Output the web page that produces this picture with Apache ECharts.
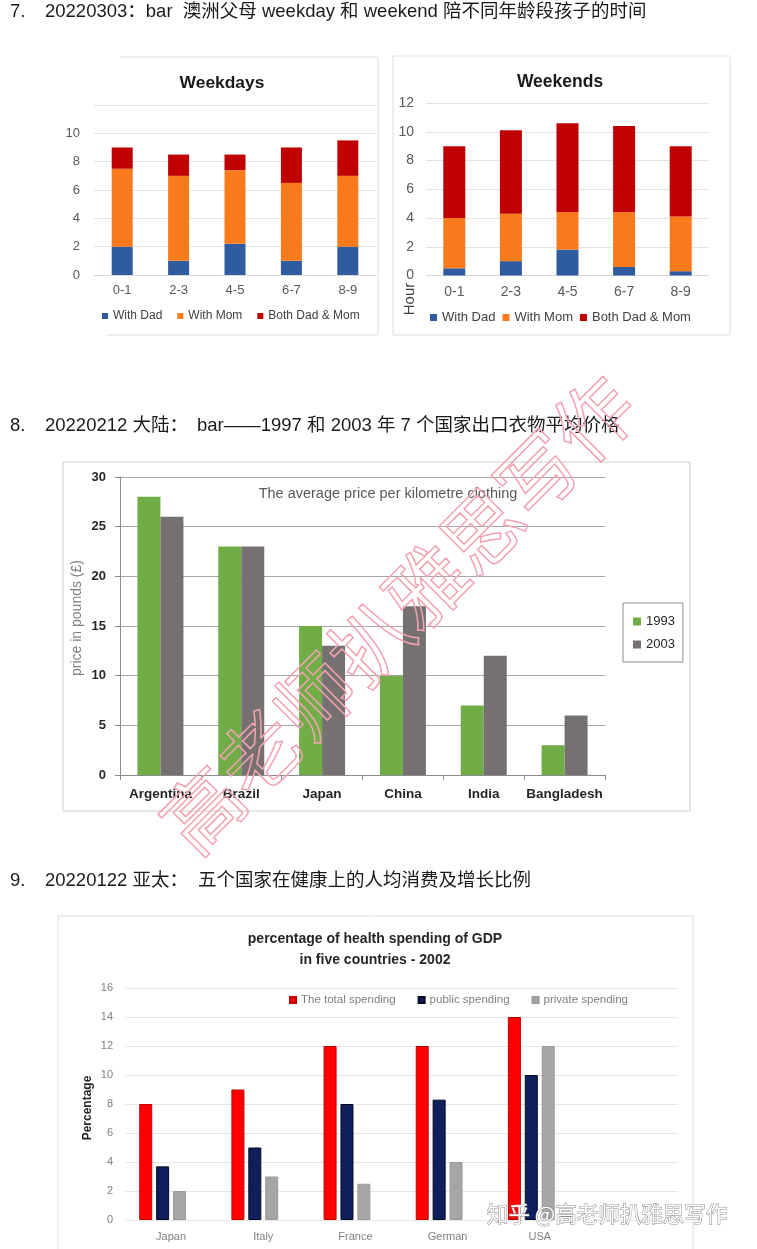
<!DOCTYPE html>
<html><head><meta charset="utf-8">
<script src="https://cdn.jsdelivr.net/npm/echarts@6/dist/echarts.min.js"></script>
<style>html,body{margin:0;padding:0;background:#fff}#c{width:757px;height:1249px}</style>
</head><body><div id="c"></div><script>
// ---- Chart 7: hours with children ----
const ageGroups = ['0-1', '2-3', '4-5', '6-7', '8-9'];
const weekdayDad = [2, 1, 2.2, 1, 2];
const weekdayMom = [5.5, 6, 5.2, 5.5, 5];
const weekdayBoth = [1.5, 1.5, 1.1, 2.5, 2.5];
const weekendDad = [0.5, 1, 1.8, 0.6, 0.3];
const weekendMom = [3.5, 3.3, 2.6, 3.8, 3.8];
const weekendBoth = [5, 5.8, 6.2, 6, 4.9];
const parentNames = ['With Dad', 'With Mom', 'Both Dad & Mom'];
// ---- Chart 8: clothing prices ----
const clothCountries = ['Argentina', 'Brazil', 'Japan', 'China', 'India', 'Bangladesh'];
const price1993 = [28, 23, 15, 10, 7, 3];
const price2003 = [26, 23, 13, 17, 12, 6];
const yearNames = ['1993', '2003'];
// ---- Chart 9: health spending ----
const healthCountries = ['Japan', 'Italy', 'France', 'German', 'USA', ''];
const totalSpending = [8, 9, 12, 12, 14];
const publicSpending = [3.7, 5, 8, 8.3, 10];
const privateSpending = [2, 3, 2.5, 4, 12];
const spendNames = ['The total spending', 'public spending', 'private spending'];

const LAT = '"Liberation Sans", Arial, sans-serif';
const CJK = '"Liberation Sans", "Noto Sans CJK SC", sans-serif';
const cDad = '#2f5b9f', cMom = '#fb7a1c', cBoth = '#c00000';

const chart = echarts.init(document.getElementById('c'), null, {renderer: 'canvas'});

function txt(x, y, s, o) {
  return Object.assign({type: 'text', x: x, y: y, silent: true,
    style: Object.assign({text: s, fill: '#1a1a1a', font: '18.5px ' + CJK, align: 'left', verticalAlign: 'middle'}, o || {})});
}
function line(pts, color) {
  return {type: 'polyline', silent: true, z: -1, shape: {points: pts}, style: {fill: 'none', stroke: color || '#dcdcdc', lineWidth: 1}};
}

const graphic = [
  // headings
  txt(10, 12, '7.'), txt(45, 12, '20220303：bar  澳洲父母 weekday 和 weekend 陪不同年龄段孩子的时间'),
  txt(10, 426, '8.'), txt(45, 426, '20220212 大陆：'), txt(197, 426, 'bar——1997 和 2003 年 7 个国家出口衣物平均价格'),
  txt(10, 881, '9.'), txt(45, 881, '20220122 亚太：'), txt(198, 881, '五个国家在健康上的人均消费及增长比例'),
  // frames
  line([[120, 57], [378, 57], [378, 335], [107, 335]]),
  line([[393, 56], [730, 56], [730, 335], [393, 335], [393, 56]]),
  {type: 'rect', silent: true, z: -1, shape: {x: 63, y: 462, width: 627, height: 349}, style: {fill: 'none', stroke: '#cfcfcf'}},
  {type: 'rect', silent: true, z: -1, shape: {x: 58, y: 916, width: 635, height: 360}, style: {fill: 'none', stroke: '#dedede'}},
  // titles
  txt(222, 83, 'Weekdays', {font: 'bold 17.4px ' + LAT, align: 'center'}),
  txt(560, 82, 'Weekends', {font: 'bold 17.5px ' + LAT, align: 'center'}),
  txt(388, 494, 'The average price per kilometre clothing', {font: '14.5px ' + LAT, fill: '#595959', align: 'center'}),
  txt(375, 950, 'percentage of health spending of GDP\nin five countries - 2002', {font: 'bold 14px ' + LAT, fill: '#262626', align: 'center', lineHeight: 21}),
  // axis names
  Object.assign(txt(410, 299, 'Hour', {font: '15px ' + LAT, fill: '#404040', align: 'center'}), {rotation: Math.PI / 2}),
  Object.assign(txt(77, 618, 'price in pounds (£)', {font: '14px ' + LAT, fill: '#7f7f7f', align: 'center'}), {rotation: Math.PI / 2}),
  Object.assign(txt(88, 1108, 'Percentage', {font: 'bold 12px ' + LAT, fill: '#262626', align: 'center'}), {rotation: Math.PI / 2}),
  // watermarks
  {type: 'text', x: 398, y: 614, rotation: Math.PI / 4, z: 100, silent: true,
    style: {text: '高老师扒雅思写作', font: '79px "Noto Sans CJK SC"', fill: 'rgba(0,0,0,0)', stroke: '#f3a2b3', lineWidth: 1.5, align: 'center', verticalAlign: 'middle'}},
  {type: 'text', x: 487, y: 1214, z: 100, silent: true,
    style: {text: '知乎 @高老师扒雅思写作', font: '21.5px "Noto Sans CJK SC"', fill: '#ffffff', stroke: '#8a8a8a', lineWidth: 1, align: 'left', verticalAlign: 'middle'}}
];

function stackSeries(idx, stack, vals, width) {
  const colors = [cDad, cMom, cBoth];
  return vals.map((v, i) => ({
    type: 'bar', name: parentNames[i], stack: stack, data: v, barWidth: width,
    xAxisIndex: idx, yAxisIndex: idx, itemStyle: {color: colors[i]}, silent: true
  }));
}

const option = {
  animation: false,
  backgroundColor: '#fff',
  textStyle: {fontFamily: LAT},
  graphic: graphic,
  grid: [
    {left: 94, right: 381, top: 105, bottom: 974},
    {left: 426, right: 48, top: 103, bottom: 973.5},
    {left: 120, right: 152, top: 477, bottom: 474},
    {left: 125, right: 79, top: 988, bottom: 29}
  ],
  legend: [
    {data: parentNames, left: 102, top: 310, itemWidth: 6, itemHeight: 6, itemGap: 15, icon: 'rect', padding: 0,
      textStyle: {fontSize: 12, color: '#404040', fontFamily: LAT}},
    {data: parentNames, left: 430, top: 311, itemWidth: 7, itemHeight: 7, itemGap: 7, icon: 'rect', padding: 0,
      textStyle: {fontSize: 13, color: '#404040', fontFamily: LAT}},
    {data: yearNames, orient: 'vertical', left: 623, top: 603, itemWidth: 8, itemHeight: 8, itemGap: 10, icon: 'rect',
      padding: [12, 8, 11, 10], borderColor: '#8c8c8c', borderWidth: 1,
      textStyle: {fontSize: 13, color: '#262626', fontFamily: LAT}},
    {data: spendNames, left: 289, top: 994, itemWidth: 6, itemHeight: 6, itemGap: 22, icon: 'rect', padding: 0,
      textStyle: {fontSize: 11.5, color: '#7f7f7f', fontFamily: LAT}}
  ],
  xAxis: [
    {gridIndex: 0, type: 'category', data: ageGroups, axisLine: {lineStyle: {color: '#d9d9d9'}}, axisTick: {show: false},
      axisLabel: {color: '#595959', fontSize: 13, margin: 9}},
    {gridIndex: 1, type: 'category', data: ageGroups, axisLine: {lineStyle: {color: '#d9d9d9'}}, axisTick: {show: false},
      axisLabel: {color: '#595959', fontSize: 14, margin: 10}},
    {gridIndex: 2, type: 'category', data: clothCountries, axisLine: {lineStyle: {color: '#8c8c8c'}},
      axisTick: {show: true, length: 5, lineStyle: {color: '#8c8c8c'}},
      axisLabel: {color: '#262626', fontSize: 13.5, fontWeight: 'bold', margin: 12, interval: 0}},
    {gridIndex: 3, type: 'category', data: healthCountries, axisLine: {show: false}, axisTick: {show: false},
      axisLabel: {color: '#7f7f7f', fontSize: 11, margin: 11, interval: 0}}
  ],
  yAxis: [
    {gridIndex: 0, type: 'value', min: 0, max: 12, interval: 2, axisLine: {show: false}, axisTick: {show: false},
      splitLine: {lineStyle: {color: '#e3e3e3'}},
      axisLabel: {color: '#595959', fontSize: 13, margin: 14, formatter: v => (v === 12 ? '' : v)}},
    {gridIndex: 1, type: 'value', min: 0, max: 12, interval: 2, axisLine: {show: false}, axisTick: {show: false},
      splitLine: {lineStyle: {color: '#e3e3e3'}},
      axisLabel: {color: '#595959', fontSize: 14, margin: 12}},
    {gridIndex: 2, type: 'value', min: 0, max: 30, interval: 5, axisLine: {show: true, lineStyle: {color: '#8c8c8c'}},
      axisTick: {show: true, length: 5, lineStyle: {color: '#8c8c8c'}},
      splitLine: {lineStyle: {color: '#a6a6a6'}},
      axisLabel: {color: '#262626', fontSize: 13, fontWeight: 'bold', margin: 14}},
    {gridIndex: 3, type: 'value', min: 0, max: 16, interval: 2, axisLine: {show: false}, axisTick: {show: false},
      splitLine: {lineStyle: {color: '#e6e6e6'}},
      axisLabel: {color: '#7f7f7f', fontSize: 11, margin: 12}}
  ],
  series: [
    ...stackSeries(0, 'weekday', [weekdayDad, weekdayMom, weekdayBoth], 21),
    ...stackSeries(1, 'weekend', [weekendDad, weekendMom, weekendBoth], 22),
    {type: 'bar', name: yearNames[0], data: price1993, xAxisIndex: 2, yAxisIndex: 2, barWidth: 23, barGap: '0%',
      itemStyle: {color: '#70ad47'}, silent: true},
    {type: 'bar', name: yearNames[1], data: price2003, xAxisIndex: 2, yAxisIndex: 2, barWidth: 23, barGap: '0%',
      itemStyle: {color: '#767171'}, silent: true},
    {type: 'bar', name: spendNames[0], data: totalSpending, xAxisIndex: 3, yAxisIndex: 3, barWidth: 13, barGap: '30%',
      itemStyle: {color: '#ff0000', borderColor: '#c00000', borderWidth: 1}, silent: true},
    {type: 'bar', name: spendNames[1], data: publicSpending, xAxisIndex: 3, yAxisIndex: 3, barWidth: 13, barGap: '30%',
      itemStyle: {color: '#0f1f5c', borderColor: '#050a20', borderWidth: 1}, silent: true},
    {type: 'bar', name: spendNames[2], data: privateSpending, xAxisIndex: 3, yAxisIndex: 3, barWidth: 13, barGap: '30%',
      itemStyle: {color: '#a6a6a6', borderColor: '#9a9a9a', borderWidth: 1}, silent: true},
    // empty fourth slot kept by the original layout (no data)
    {type: 'bar', name: 'slot', data: [], xAxisIndex: 3, yAxisIndex: 3, barWidth: 13, barGap: '30%', silent: true}
  ]
};
chart.setOption(option);
</script></body></html>
